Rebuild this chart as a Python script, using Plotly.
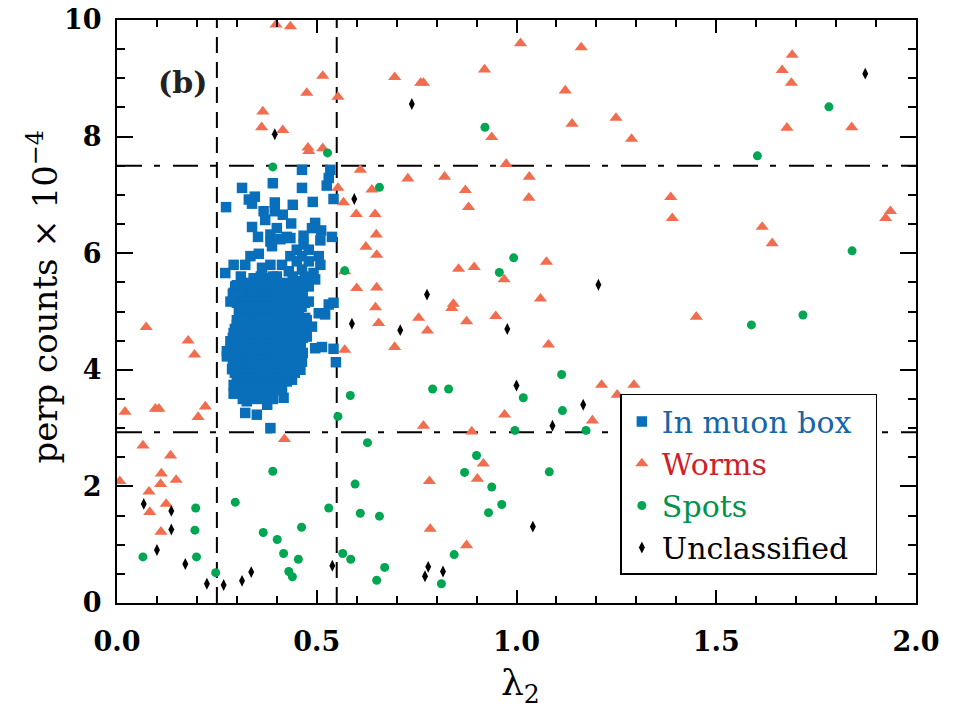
import plotly.graph_objects as go

# ---- In muon box (lambda_2, perp counts x 1e-4) ----
muon_x = [
    0.463, 0.534, 0.530, 0.525, 0.390, 0.313, 0.463, 0.345, 0.330, 0.338, 0.273, 0.395, 0.440, 0.490,
    0.542, 0.367, 0.395, 0.415, 0.371, 0.436, 0.496, 0.338, 0.400, 0.488, 0.511, 0.384, 0.425, 0.467,
    0.353, 0.538, 0.384, 0.409, 0.434, 0.509, 0.467, 0.388, 0.450, 0.480, 0.505, 0.334, 0.355, 0.434,
    0.463, 0.509, 0.292, 0.321, 0.271, 0.363, 0.384, 0.413, 0.450, 0.480, 0.430, 0.463, 0.492, 0.342,
    0.371, 0.400, 0.296, 0.334, 0.363, 0.392, 0.421, 0.450, 0.480, 0.496,
    0.292, 0.284, 0.346, 0.463, 0.480, 0.530, 0.542, 0.505, 0.521, 0.317, 0.471, 0.300, 0.488, 0.292,
    0.475, 0.284, 0.496, 0.513, 0.542, 0.275, 0.275, 0.465, 0.548, 0.463, 0.288, 0.459, 0.438, 0.292,
    0.292, 0.413, 0.417, 0.325, 0.376, 0.321, 0.350, 0.384,
    0.310, 0.360, 0.390, 0.440, 0.470,
    0.300, 0.325, 0.350, 0.375, 0.400, 0.425, 0.450, 0.470,
    0.290, 0.315, 0.340, 0.365, 0.390, 0.415, 0.440, 0.465,
    0.300, 0.320, 0.345, 0.370, 0.395, 0.420, 0.445, 0.470,
    0.305, 0.330, 0.355, 0.380, 0.405, 0.430, 0.455,
    0.300, 0.325, 0.350, 0.375, 0.400, 0.425, 0.450, 0.475,
    0.295, 0.320, 0.345, 0.370, 0.395, 0.420, 0.445, 0.470,
    0.290, 0.315, 0.340, 0.365, 0.390, 0.415, 0.440, 0.465,
    0.285, 0.310, 0.335, 0.360, 0.385, 0.410, 0.435, 0.460,
    0.285, 0.310, 0.335, 0.360, 0.385, 0.410, 0.435, 0.455,
    0.290, 0.315, 0.340, 0.365, 0.390, 0.415, 0.440,
    0.295, 0.320, 0.345, 0.370, 0.395, 0.420, 0.445,
    0.300, 0.325, 0.350, 0.375, 0.400, 0.425,
    0.305, 0.330, 0.355, 0.380, 0.405,
    0.315, 0.340, 0.365, 0.390,
    0.312, 0.337, 0.362, 0.387, 0.412, 0.437, 0.462,
    0.302, 0.327, 0.352, 0.377, 0.402, 0.427, 0.452,
    0.297, 0.322, 0.347, 0.372, 0.397, 0.422, 0.447,
    0.302, 0.327, 0.352, 0.377, 0.402, 0.427,
    0.312, 0.337, 0.362, 0.387, 0.412,
]
muon_y = [
    7.43, 7.43, 7.29, 7.16, 7.20, 7.12, 7.12, 6.97, 6.92, 6.85, 6.79, 6.87, 6.83, 6.88,
    6.93, 6.72, 6.72, 6.66, 6.57, 6.51, 6.52, 6.45, 6.43, 6.43, 6.39, 6.32, 6.28, 6.30,
    6.28, 6.28, 6.20, 6.24, 6.26, 6.22, 6.15, 6.12, 6.06, 6.06, 5.95, 5.95, 5.99, 5.95,
    5.95, 5.80, 5.80, 5.80, 5.66, 5.75, 5.80, 5.80, 5.86, 5.86, 5.69, 5.72, 5.66, 5.57,
    5.57, 5.60, 5.43, 5.49, 5.43, 5.43, 5.49, 5.52, 5.43, 5.55,
    5.32, 5.17, 5.20, 5.26, 5.17, 5.12, 5.15, 4.97, 4.95, 4.89, 4.89, 4.77, 4.74, 4.63,
    4.57, 4.49, 4.37, 4.39, 4.36, 4.32, 4.23, 4.29, 4.13, 4.14, 4.01, 4.00, 3.83, 3.74,
    3.59, 3.66, 3.52, 3.46, 3.40, 3.26, 3.23, 3.00,
    5.60, 5.60, 5.60, 5.60, 5.60,
    5.45, 5.45, 5.45, 5.45, 5.45, 5.45, 5.45, 5.45,
    5.30, 5.30, 5.30, 5.30, 5.30, 5.30, 5.30, 5.30,
    5.15, 5.15, 5.15, 5.15, 5.15, 5.15, 5.15, 5.15,
    5.00, 5.00, 5.00, 5.00, 5.00, 5.00, 5.00,
    4.85, 4.85, 4.85, 4.85, 4.85, 4.85, 4.85, 4.85,
    4.70, 4.70, 4.70, 4.70, 4.70, 4.70, 4.70, 4.70,
    4.55, 4.55, 4.55, 4.55, 4.55, 4.55, 4.55, 4.55,
    4.40, 4.40, 4.40, 4.40, 4.40, 4.40, 4.40, 4.40,
    4.25, 4.25, 4.25, 4.25, 4.25, 4.25, 4.25, 4.25,
    4.10, 4.10, 4.10, 4.10, 4.10, 4.10, 4.10,
    3.95, 3.95, 3.95, 3.95, 3.95, 3.95, 3.95,
    3.80, 3.80, 3.80, 3.80, 3.80, 3.80,
    3.65, 3.65, 3.65, 3.65, 3.65,
    3.50, 3.50, 3.50, 3.50,
    5.08, 5.08, 5.08, 5.08, 5.08, 5.08, 5.08,
    4.62, 4.62, 4.62, 4.62, 4.62, 4.62, 4.62,
    4.33, 4.33, 4.33, 4.33, 4.33, 4.33, 4.33,
    4.02, 4.02, 4.02, 4.02, 4.02, 4.02,
    3.72, 3.72, 3.72, 3.72, 3.72,
]

# ---- Worms ----
worms_x = [
    0.398, 0.434, 0.515, 0.475, 0.553, 0.365, 0.362, 0.415, 0.478, 0.480, 0.515, 0.609, 0.553, 0.638,
    0.567, 0.599, 0.646, 0.649, 0.623, 0.650, 0.570, 0.600, 0.650, 0.647, 0.655, 0.570,
    1.010, 1.162, 0.695, 0.760, 0.767, 0.920, 1.122, 1.139, 1.249, 1.288, 0.938, 0.974, 0.728, 0.820,
    1.032, 0.872, 1.031, 0.880, 0.855, 0.894, 1.075, 0.969, 1.060, 0.842, 0.838,
    1.690, 1.665, 1.688, 1.677, 1.839, 1.386, 1.390, 1.936, 1.924, 1.615, 1.640, 1.450,
    0.073, 0.178, 0.194, 0.020, 0.096, 0.105, 0.221, 0.203, 0.419, 0.065, 0.134, 0.111, 0.007, 0.148,
    0.109, 0.080, 0.082, 0.123, 0.110,
    0.755, 0.777, 0.875, 0.948, 0.695, 1.080, 1.213, 1.294, 1.252, 0.970, 1.190, 0.767, 0.888, 0.917,
    0.902, 0.782, 0.784, 0.875,
]
worms_y = [
    9.92, 9.89, 9.04, 8.75, 8.68, 8.43, 8.16, 8.11, 7.81, 7.75, 7.80, 7.43, 7.12, 7.09,
    6.87, 6.67, 6.67, 6.32, 6.11, 5.97, 5.69, 5.40, 5.41, 5.07, 4.80, 4.34,
    9.60, 9.53, 9.02, 8.92, 8.92, 9.15, 8.79, 8.22, 8.32, 7.96, 7.99, 7.53, 7.28, 7.31,
    7.31, 7.08, 6.95, 6.79, 5.73, 5.76, 5.85, 5.55, 5.22, 5.13, 5.06,
    9.40, 9.14, 8.92, 8.15, 8.16, 6.96, 6.60, 6.72, 6.60, 6.45, 6.17, 4.91,
    4.73, 4.50, 4.26, 3.28, 3.33, 3.33, 3.37, 3.19, 2.81, 2.70, 2.53, 2.22, 2.09, 2.11,
    2.04, 1.91, 1.56, 1.70, 1.22,
    4.89, 4.67, 4.83, 4.92, 4.39, 4.43, 3.74, 3.74, 3.57, 3.23, 3.13, 3.04, 2.94, 2.39,
    2.13, 2.09, 1.27, 0.99,
]

# ---- Spots ----
spots_x = [
    0.527, 0.390, 0.657, 0.570, 0.921, 0.993, 0.957, 1.782, 1.603, 1.840, 1.588, 1.717,
    0.584, 0.553, 0.627, 0.390, 0.596, 0.296, 0.197, 0.530, 0.609, 0.657, 0.195, 0.462, 0.366, 0.401,
    0.065, 0.199, 0.417, 0.454, 0.565, 0.585, 0.430, 0.439, 0.247, 0.650,
    0.790, 0.830, 1.113, 1.017, 1.115, 0.996, 1.174, 0.900, 0.870, 1.082, 0.938, 0.963, 0.930,
    0.844, 0.670, 0.812,
]
spots_y = [
    7.72, 7.48, 7.13, 5.70, 8.16, 5.92, 5.67, 8.51, 7.67, 6.04, 4.77, 4.94,
    3.56, 3.20, 2.75, 2.26, 2.04, 1.73, 1.63, 1.63, 1.54, 1.49, 1.25, 1.30, 1.21, 1.09,
    0.79, 0.79, 0.85, 0.75, 0.85, 0.75, 0.54, 0.45, 0.52, 0.39,
    3.67, 3.67, 3.92, 3.52, 3.30, 2.96, 2.96, 2.53, 2.24, 2.25, 1.99, 1.69, 1.55,
    0.83, 0.61, 0.33,
]

# ---- Unclassified ----
uncl_x = [
    0.395, 0.594, 0.738, 0.776, 1.205, 1.873, 0.588, 0.067, 0.136, 0.136, 0.100, 0.171, 0.225, 0.267,
    0.313, 0.336, 0.539, 0.709, 0.977, 1.000, 1.167, 1.090, 1.041, 0.779, 0.771, 0.816,
]
uncl_y = [
    8.04, 6.93, 8.56, 5.29, 5.46, 9.08, 4.79, 1.70, 1.58, 1.26, 0.91, 0.67, 0.33, 0.31,
    0.38, 0.53, 0.64, 4.68, 4.70, 3.73, 3.40, 3.04, 1.31, 0.62, 0.46, 0.54,
]

# selection cuts
lam_cuts = [0.25, 0.55]
count_cuts = [2.93, 7.5]

SERIF = "DejaVu Serif"
NBSP = "\u00a0"

fig = go.Figure()
fig.add_trace(go.Scatter(
    x=muon_x, y=muon_y, mode="markers",
    name='<span style="color:#1565a8">In muon box</span>' + NBSP * 2,
    marker=dict(symbol="square", size=10.5, color="#0a6fba", line=dict(width=0)),
))
fig.add_trace(go.Scatter(
    x=worms_x, y=worms_y, mode="markers",
    name='<span style="color:#cf1f2b">Worms</span>',
    marker=dict(symbol="triangle-up", size=11.5, color="#f26d4f", line=dict(width=0)),
))
fig.add_trace(go.Scatter(
    x=spots_x, y=spots_y, mode="markers",
    name='<span style="color:#00934c">Spots</span>',
    marker=dict(symbol="circle", size=9, color="#00a651", line=dict(width=0)),
))
fig.add_trace(go.Scatter(
    x=uncl_x, y=uncl_y, mode="markers",
    name='<span style="color:#000000">Unclassified</span>',
    marker=dict(symbol="diamond-tall", size=8.5, color="#000000", line=dict(width=0)),
))

for xv in lam_cuts:
    fig.add_shape(type="line", xref="x", yref="paper", x0=xv, x1=xv, y0=0, y1=1,
                  line=dict(color="black", width=2, dash="16px,9px"), layer="below")
for yv in count_cuts:
    fig.add_shape(type="line", xref="paper", yref="y", x0=0, x1=1, y0=yv, y1=yv,
                  line=dict(color="black", width=2, dash="25px,12px,6px,13px"), layer="below")

fig.add_annotation(text="<b>(b)</b>", x=0.164, y=8.92, xref="x", yref="y",
                   showarrow=False, font=dict(family=SERIF, size=30, color="#222222"))
fig.add_annotation(text="λ<sub>2</sub>", x=0.505, y=-0.098, xref="paper", yref="paper",
                   xanchor="center", yanchor="top", showarrow=False,
                   font=dict(family=SERIF, size=36, color="black"))
fig.add_annotation(text="perp counts × 10<sup>−4</sup>", x=-0.093, y=0.525,
                   xref="paper", yref="paper", textangle=-90, showarrow=False,
                   xanchor="center", yanchor="middle",
                   font=dict(family=SERIF, size=34, color="black"))

axis_common = dict(
    showline=True, linecolor="black", linewidth=2, mirror="ticks",
    ticks="inside", tickcolor="black", tickwidth=2, showgrid=False, zeroline=False,
    automargin=False,
    tickfont=dict(family=SERIF, size=27, color="black", weight="bold"),
)
fig.update_xaxes(range=[0, 2], dtick=0.5, tick0=0, tickformat=".1f", ticklen=13,
                 minor=dict(dtick=0.1, ticklen=7, ticks="inside", tickcolor="black", tickwidth=1.5),
                 ticklabelstandoff=14, **axis_common)
fig.update_yaxes(range=[0, 10], dtick=2, tick0=0, ticklen=16,
                 minor=dict(dtick=0.5, ticklen=8, ticks="inside", tickcolor="black", tickwidth=1.5),
                 ticklabelstandoff=8, **axis_common)

fig.update_layout(
    width=964, height=712,
    margin=dict(l=116.5, r=47.5, t=20, b=109),
    paper_bgcolor="white", plot_bgcolor="white",
    showlegend=True,
    legend=dict(
        x=0.630, y=0.3585, xanchor="left", yanchor="top",
        bgcolor="white", bordercolor="black", borderwidth=1.5,
        font=dict(family=SERIF, size=30, color="black"),
        itemsizing="trace",
    ),
)

fig.write_html("out.html")
